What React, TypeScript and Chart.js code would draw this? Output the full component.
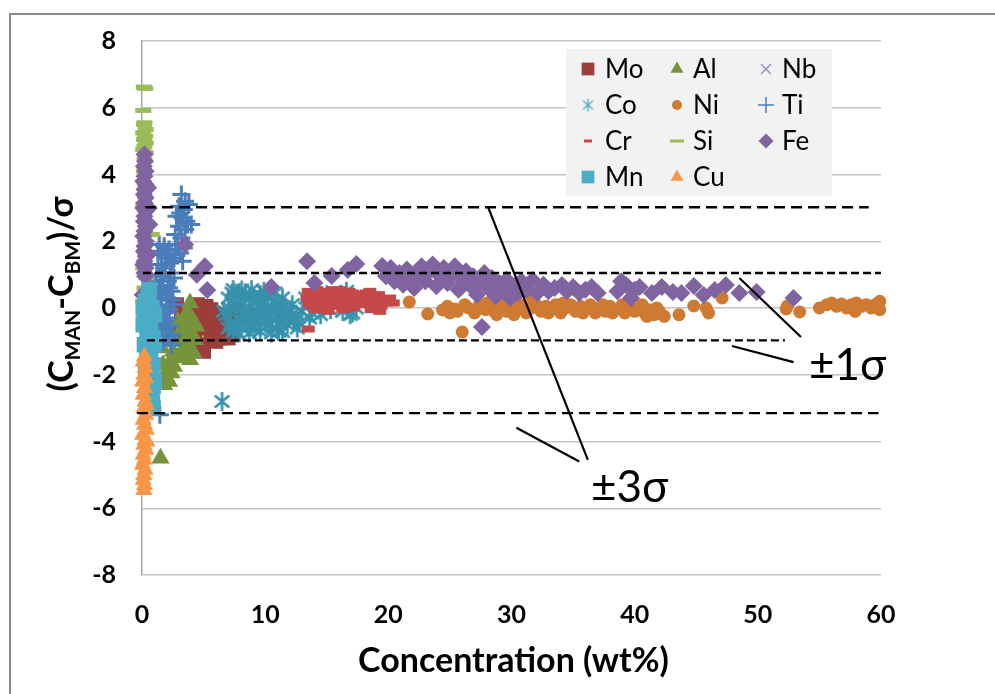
import React, { useEffect, useRef } from 'react';
import { Chart, registerables } from 'chart.js';
import { drawPoint } from 'chart.js/helpers';

Chart.register(...registerables);

type P = [number, number];

// ---------- data (x = concentration wt%, y = (Cman-Cbm)/sigma) ----------
const moData: P[] = [
  [2.8, 0.1], [3.2, -0.3], [3.0, -0.7], [3.6, -0.1], [4.0, -0.5], [4.3, -0.9], [4.7, -0.2], [4.9, -1.1],
  [5.0, -0.6], [5.2, 0.05], [5.4, -0.4], [5.6, -0.8], [5.8, -0.15], [6.0, -0.5], [6.3, -0.9], [6.5, -0.2],
  [6.8, -0.6], [7.1, -0.35], [7.4, -0.8], [7.7, -0.1], [3.7, -1.2], [4.5, 0.1], [5.0, -1.3], [6.0, -1.0],
  [7.0, -0.9], [5.6, -0.05],
];
const alData: P[] = [
  [3.9, 0.15], [3.7, -0.15], [4.1, -0.35], [3.6, -0.55], [4.0, -0.75], [4.3, -0.95], [3.5, -0.95], [3.8, -1.15],
  [4.2, -1.35], [3.3, -1.25], [3.9, -1.55], [3.1, -0.7], [2.9, -0.4], [2.7, -1.0], [2.5, -1.3], [2.3, -1.6],
  [2.1, -1.85], [1.9, -2.05], [2.2, -2.2], [1.7, -1.7], [2.6, -1.75], [3.0, -1.5], [3.4, -0.3], [4.4, -0.55],
  [1.5, -4.5], [1.6, -1.2], [1.3, -0.8], [1.8, -2.3], [2.4, -1.95], [3.6, -1.4],
];
const nbData: P[] = [[0.2, 0.0], [0.4, -0.3]];
const coData: P[] = [
  [6.8, -0.2], [7.0, 0.3], [7.2, -0.5], [7.5, 0.1], [7.7, -0.3], [7.9, 0.45], [8.1, -0.6], [8.3, 0.0],
  [8.5, -0.35], [8.7, 0.3], [8.9, -0.1], [9.1, -0.65], [9.3, 0.15], [9.5, -0.4], [9.7, 0.05], [9.9, -0.2],
  [10.1, 0.35], [10.3, -0.5], [10.5, -0.05], [10.7, 0.2], [10.9, -0.35], [11.1, -0.7], [11.3, 0.0], [11.5, -0.25],
  [11.8, -0.5], [12.0, -0.1], [12.3, -0.4], [12.6, -0.6], [8.0, 0.2], [8.6, -0.2], [9.2, -0.45], [9.8, 0.25],
  [10.4, -0.25], [11.0, 0.1], [7.4, -0.7], [13.0, -0.1], [13.3, 0.3], [13.6, -0.3], [14.0, 0.1], [14.5, -0.2],
  [15.0, 0.4], [15.3, -0.05], [16.0, 0.2], [16.3, -0.1], [16.6, 0.5], [16.9, -0.2], [17.2, 0.3], [17.4, 0.0],
  [6.5, -2.8], [7.3, 0.45], [8.1, 0.54], [6.6, -0.1],
  [7.1, 0.0], [7.6, -0.5], [7.8, 0.25], [8.2, -0.4], [8.4, 0.4], [8.8, -0.55], [9.0, 0.35], [9.4, -0.1],
  [9.6, 0.4], [10.0, -0.45], [10.2, 0.0], [10.6, -0.6], [10.8, 0.45], [11.2, -0.45], [11.4, 0.3], [11.6, 0.05],
  [11.9, -0.3], [12.2, 0.1], [12.5, -0.2], [12.8, -0.45], [7.0, -0.6], [9.0, -0.3], [10.0, 0.15], [11.0, -0.2],
  [16.2, 0.4], [16.8, 0.05], [17.1, -0.15], [13.8, -0.15], [14.8, 0.2],
  [7.8, -0.75], [8.7, -0.75], [9.6, -0.7], [10.5, -0.75], [11.4, -0.7], [8.9, 0.55], [9.9, 0.5], [7.4, 0.55],
  [8.4, -0.2], [10.9, -0.1], [9.4, 0.25], [11.7, -0.05],
];
const niData: P[] = [
  [21.7, 0.18], [23.2, -0.18], [24.4, -0.06], [25.4, -0.03], [26.0, -0.72], [24.8, 0.05], [25.6, -0.1], [26.5, 0.0],
  [27.0, -0.15], [27.4, 0.1], [27.9, -0.05], [28.3, 0.05], [28.8, -0.2], [29.2, 0.1], [29.6, -0.1], [30.0, 0.15],
  [30.4, -0.05], [30.8, 0.1], [31.2, -0.15], [31.6, 0.0], [31.7, 0.3], [32.0, 0.1], [32.4, -0.1], [32.8, 0.05],
  [33.2, -0.05], [33.6, 0.1], [34.0, -0.15], [34.4, 0.0], [34.8, 0.1], [35.2, -0.1], [35.6, 0.05], [36.0, -0.05],
  [36.4, 0.1], [36.8, -0.15], [37.2, 0.0], [37.6, -0.1], [38.0, 0.05], [38.4, -0.05], [38.8, 0.0], [39.2, -0.15],
  [39.6, 0.05], [40.0, -0.1], [40.4, 0.0], [40.8, -0.15], [41.2, -0.05], [41.6, -0.2], [42.0, -0.1], [42.4, -0.25],
  [43.6, -0.2], [44.8, 0.06], [45.8, 0.0], [46.0, -0.15], [47.1, 0.3], [52.3, -0.03], [52.4, 0.06], [53.4, -0.12],
  [55.0, 0.0], [55.6, 0.1], [56.0, 0.15], [56.4, 0.05], [56.8, 0.12], [57.2, 0.0], [57.6, 0.1], [58.0, 0.15],
  [58.4, 0.05], [58.8, 0.1], [59.2, 0.0], [59.6, 0.12], [59.9, 0.2], [59.9, -0.05], [57.9, -0.1],
  [25.0, -0.15], [26.2, 0.1], [27.2, -0.05], [28.0, 0.15], [28.6, -0.1], [29.4, 0.0], [30.2, -0.2], [31.0, 0.0],
  [32.2, 0.0], [33.0, -0.15], [34.2, 0.15], [35.0, 0.0], [35.8, -0.15], [36.6, 0.0], [37.4, 0.1], [38.2, -0.15],
  [39.0, 0.1], [39.8, -0.05], [40.6, 0.1], [41.0, -0.25], [41.8, 0.0],
];
const tiData: P[] = [
  [1.4, 1.9], [1.8, 1.85], [2.2, 1.75], [1.6, 1.6], [2.0, 1.5], [2.5, 1.4], [1.3, 1.3], [1.9, 1.2],
  [2.3, 1.05], [1.5, 0.95], [2.1, 0.8], [1.7, 0.65], [2.4, 0.5], [1.3, 0.4], [2.0, 0.25], [1.6, 0.1],
  [2.2, -0.05], [1.4, -0.2], [1.9, -0.4], [2.3, -0.55], [1.5, -0.7], [2.0, -0.85], [1.7, -1.0], [2.4, -1.1],
  [1.2, -0.5], [2.6, 0.9], [2.7, 1.6], [1.1, 0.8], [1.3, 1.7], [2.6, 0.1], [2.5, -0.8], [1.8, -0.15],
  [1.2, 1.0], [2.2, 0.6], [1.6, 1.3], [1.9, 0.45], [2.1, -0.3], [1.5, 0.3], [1.8, 1.05], [2.3, 1.35],
  [1.4, 0.6], [2.5, 0.25], [1.7, -0.6], [2.2, -0.9], [1.9, 1.65], [1.5, -0.05],
  [3.2, 3.4], [3.0, 3.05], [3.4, 2.95], [2.8, 2.75], [3.3, 2.7], [3.6, 2.6], [3.0, 2.45], [3.5, 2.35],
  [2.7, 2.2], [3.2, 2.1], [3.7, 2.5], [2.9, 1.9], [3.4, 1.8], [3.1, 1.65], [2.6, 1.5], [3.3, 1.4],
  [4.0, 2.5], [3.8, 3.1], [3.1, 2.85], [3.5, 3.2], [1.45, -3.2],
];
const crData: P[] = [
  [13.4, 0.3], [13.6, 0.1], [13.8, 0.45], [14.0, 0.2], [14.1, -0.05], [14.3, 0.35], [14.5, 0.1], [14.7, 0.5],
  [14.8, 0.25], [15.0, 0.0], [15.2, 0.4], [15.3, 0.15], [15.5, 0.55], [15.7, 0.3], [15.8, 0.05], [16.0, 0.45],
  [16.2, 0.2], [16.3, -0.05], [16.5, 0.35], [16.7, 0.1], [16.8, 0.5], [17.0, 0.25], [17.2, 0.0], [17.3, 0.4],
  [17.5, 0.15], [13.5, -0.63], [14.2, 0.55], [15.1, -0.1], [16.1, 0.55], [13.5, 0.5], [17.8, 0.3], [18.0, 0.1],
  [18.2, 0.45], [18.4, 0.2], [18.6, -0.05], [18.8, 0.35], [19.0, 0.15], [19.2, 0.4], [19.4, 0.05], [19.6, 0.25],
  [19.9, 0.15], [20.1, 0.3], [18.5, 0.5], [19.3, -0.1], [14.6, 0.35], [15.4, 0.25], [16.4, 0.3], [17.1, 0.45],
  [13.9, 0.05], [14.9, 0.05], [16.6, 0.0], [18.9, 0.0], [20.4, 0.15],
];
const siData: P[] = [
  [0.15, 6.62], [0.25, 6.58], [0.1, 5.92], [0.2, 5.55], [0.15, 5.5], [0.3, 5.35], [0.1, 5.25], [0.25, 5.15],
  [0.15, 5.05], [0.3, 4.95], [0.2, 4.85], [0.1, 4.75], [0.3, 4.65], [0.2, 4.45], [0.15, 4.1], [0.3, 3.6],
  [0.1, 3.1], [0.25, 2.6], [0.8, 2.2], [0.3, 1.6], [0.1, 1.2], [0.35, 0.9], [0.2, 0.6], [0.1, 0.2],
  [0.3, -0.15], [0.2, -0.3],
];
const feData: P[] = [
  [0.2, 4.6], [0.25, 4.4], [0.15, 4.25], [0.3, 4.1], [0.2, 3.95], [0.1, 3.8], [0.3, 3.7], [0.2, 3.55],
  [0.15, 3.4], [0.3, 3.3], [0.2, 3.15], [0.1, 3.0], [0.3, 2.9], [0.2, 2.75], [0.15, 2.6], [0.3, 2.45],
  [0.2, 2.3], [0.1, 2.15], [0.3, 2.0], [0.2, 1.85], [0.15, 1.7], [0.3, 1.55], [0.2, 1.4], [0.1, 1.3],
  [0.3, 1.2], [0.2, 1.05], [0.25, 0.95], [0.05, 0.4], [0.6, 2.5], [0.5, 3.6], [0.5, 1.6], [0.55, 3.0],
  [3.5, 1.9], [5.1, 1.25], [4.45, 1.0], [5.3, 0.54], [10.5, 0.63], [13.4, 1.4], [14.0, 0.75], [15.4, 0.96],
  [16.7, 1.14], [17.4, 1.32], [19.5, 1.26],
  [19.8, 0.95], [20.2, 1.2], [20.5, 0.8], [20.9, 1.05], [21.2, 0.7], [21.5, 1.15], [21.8, 0.9], [22.1, 0.6],
  [22.4, 1.0], [22.7, 1.25], [23.0, 0.8], [23.3, 1.1], [23.6, 1.3], [23.9, 0.65], [24.2, 0.95], [24.5, 1.2],
  [24.8, 0.75], [25.1, 1.0], [25.4, 1.25], [25.7, 0.55], [26.0, 0.85], [26.3, 1.1], [26.6, 0.7], [26.9, 0.95],
  [27.2, 0.4], [27.5, 0.8], [27.8, 1.05], [28.1, 0.6], [28.4, 0.9], [28.7, 0.35], [29.0, 0.75], [29.3, 0.5],
  [29.6, 0.85], [29.9, 0.3], [30.2, 0.65], [30.5, 0.45], [30.8, 0.8], [31.2, 0.55], [31.7, 0.84], [32.1, 0.45],
  [32.6, 0.7], [33.0, 0.5], [33.5, 0.6], [34.1, 0.69], [34.5, 0.5], [35.0, 0.63], [35.5, 0.45], [36.0, 0.55],
  [36.5, 0.63], [37.0, 0.45], [27.6, -0.57], [38.6, 0.5], [38.9, 0.8], [39.3, 0.69], [39.7, 0.3], [40.0, 0.55],
  [40.4, 0.63], [41.4, 0.45], [42.2, 0.63], [43.1, 0.48], [43.8, 0.45], [44.8, 0.66], [45.6, 0.39], [46.5, 0.54],
  [47.4, 0.69], [48.5, 0.45], [49.9, 0.48], [52.9, 0.3],
];
const mnData: P[] = [
  [0.6, 0.55], [0.3, 0.2], [0.8, 0.0], [0.2, -0.25], [0.7, -0.45], [0.4, -0.7], [0.9, -0.9], [0.2, -1.1],
  [0.7, -1.3], [0.4, -1.5], [0.9, -1.7], [0.3, -1.85], [0.8, -2.0], [0.5, -2.15], [0.9, -2.35], [0.8, -2.6],
  [0.85, -2.85], [0.9, -3.0], [0.1, -0.5], [0.5, 0.35], [1.0, -0.2], [1.0, -1.1], [0.1, 0.0], [1.0, -2.2],
];
const cuData: P[] = [
  [0.2, -1.45], [0.1, -1.6], [0.25, -1.8], [0.15, -2.0], [0.05, -2.2], [0.2, -2.4], [0.1, -2.6], [0.25, -2.8],
  [0.15, -3.0], [0.3, -3.2], [0.1, -3.35], [0.2, -3.5], [0.35, -3.65], [0.05, -3.8], [0.25, -3.95], [0.15, -4.1],
  [0.3, -4.25], [0.1, -4.4], [0.2, -4.55], [0.05, -4.7], [0.25, -4.85], [0.15, -5.0], [0.1, -5.15], [0.2, -5.3],
  [0.15, -5.45], [0.3, -2.1], [0.35, -2.9], [0.4, -4.0],
];

const seriesNames = ['Mo', 'Al', 'Nb', 'Co', 'Ni', 'Ti', 'Cr', 'Si', 'Fe', 'Mn', 'Cu'];
const seriesData: P[][] = [moData, alData, nbData, coData, niData, tiData, crData, siData, feData, mnData, cuData];

// dashed sigma reference lines: level, start x, end x
const sigmaLevels = [3.02, 1.05, -0.97, -3.15];
const sigmaStartX = [0.25, 0.08, 0.4, -0.4];
const sigmaEndX = [59.0, 60.0, 52.2, 59.8];

// solid pointer lines
const pointerLines: [P, P][] = [
  [[48.5, 0.9], [53.5, -0.87]],
  [[47.9, -1.14], [52.9, -1.62]],
  [[28.1, 3.02], [36.2, -4.55]],
  [[30.4, -3.59], [35.5, -4.6]],
];
const annotationTexts = ['±1σ', '±3σ'];
const annotationPos: P[] = [[57.3, -1.74], [39.6, -5.39]];

const xTicksMin = 0, xTicksMax = 60, xStep = 10;
const yTicksMin = -8, yTicksMax = 8, yStep = 2;

function makeAsterisk(color: string, size: number, lw: number): HTMLCanvasElement {
  const c = document.createElement('canvas');
  c.width = size;
  c.height = size;
  const g = c.getContext('2d')!;
  g.strokeStyle = color;
  g.lineWidth = lw;
  const r = size / 2 - 1;
  const cx = size / 2, cy = size / 2;
  for (const a of [90, 40, 140]) {
    const rad = (a * Math.PI) / 180;
    g.beginPath();
    g.moveTo(cx - r * Math.cos(rad), cy - r * Math.sin(rad));
    g.lineTo(cx + r * Math.cos(rad), cy + r * Math.sin(rad));
    g.stroke();
  }
  return c;
}

export default function App() {
  const ref = useRef<HTMLCanvasElement>(null);

  useEffect(() => {
    if (!ref.current) return;
    Chart.defaults.font.family = 'Lato';

    const coImg = makeAsterisk('#3791AC', 21, 2.6);
    const coLegendImg = makeAsterisk('#4BACC6', 15, 1.3);

    const styles: Record<string, any> = {
      Mo: { pointStyle: 'rect', radius: 10.5, color: '#9C3D3A', bw: 0, lr: 9 },
      Al: { pointStyle: 'triangle', radius: 10.5, color: '#77933C', bw: 0, lr: 7.5 },
      Nb: { pointStyle: 'crossRot', radius: 7, color: '#9D8EC0', bw: 1.5, lr: 7 },
      Co: { pointStyle: coImg, radius: 10, color: '#3791AC', bw: 1.5, lr: 7, legendImg: coLegendImg },
      Ni: { pointStyle: 'circle', radius: 6.5, color: '#CF7A32', bw: 0, lr: 5 },
      Ti: { pointStyle: 'cross', radius: 9, color: '#4A7EBB', bw: 3, lr: 8, lbw: 1.5 },
      Cr: { pointStyle: 'line', radius: 6.5, color: '#C6494A', bw: 7, lr: 4, lbw: 3 },
      Si: { pointStyle: 'line', radius: 8, color: '#9BBB59', bw: 5, lr: 7, lbw: 3 },
      Fe: { pointStyle: 'rectRot', radius: 9, color: '#8064A2', bw: 0, lr: 7.5 },
      Mn: { pointStyle: 'rect', radius: 11, color: '#4BACC6', bw: 0, lr: 9 },
      Cu: { pointStyle: 'triangle', radius: 10, color: '#F79646', bw: 0, lr: 7.5 },
    };

    const datasets: any[] = seriesNames.map((name, i) => {
      const s = styles[name];
      return {
        type: 'scatter',
        label: name,
        data: seriesData[i].map(([x, y]) => ({ x, y })),
        pointStyle: s.pointStyle,
        pointRadius: s.radius,
        pointHoverRadius: s.radius,
        backgroundColor: s.color,
        borderColor: s.color,
        pointBorderWidth: s.bw,
        borderWidth: s.bw,
        order: 20 - i,
        clip: false,
      };
    });

    sigmaLevels.forEach((lv, i) => {
      datasets.push({
        type: 'line',
        label: 'sigma' + i,
        data: [
          { x: sigmaStartX[i], y: lv },
          { x: sigmaEndX[i], y: lv },
        ],
        borderColor: '#000',
        borderWidth: 2.4,
        borderDash: Math.abs(lv) > 2 ? [11, 6] : [8, 4],
        pointRadius: 0,
        fill: false,
        order: -1,
        clip: false,
      });
    });
    pointerLines.forEach((seg, i) => {
      datasets.push({
        type: 'line',
        label: 'pointer' + i,
        data: seg.map(([x, y]) => ({ x, y })),
        borderColor: '#000',
        borderWidth: 2.2,
        pointRadius: 0,
        fill: false,
        order: -2,
        clip: false,
      });
    });

    const customDraw = {
      id: 'customDraw',
      afterDraw(chart: any) {
        const ctx = chart.ctx as CanvasRenderingContext2D;
        const { chartArea, scales } = chart;
        ctx.save();
        // annotation texts
        ctx.fillStyle = '#000';
        ctx.font = '44px Lato';
        ctx.textAlign = 'center';
        ctx.textBaseline = 'middle';
        annotationTexts.forEach((t, i) => {
          const [x, y] = annotationPos[i];
          ctx.fillText(t, scales.x.getPixelForValue(x), scales.y.getPixelForValue(y));
        });

        // x title
        ctx.font = 'bold 34px Lato';
        ctx.fillText('Concentration (wt%)', (chartArea.left + chartArea.right) / 2 + 2, 661);

        // y title
        ctx.save();
        ctx.translate(62, 294);
        ctx.rotate(-Math.PI / 2);
        const segs = [
          { t: '(C', sub: false },
          { t: 'MAN', sub: true },
          { t: '-C', sub: false },
          { t: 'BM', sub: true },
          { t: ')/σ', sub: false },
        ];
        const mainFont = 'bold 34px Lato';
        const subFont = 'bold 21px Lato';
        let total = 0;
        const widths = segs.map((s) => {
          ctx.font = s.sub ? subFont : mainFont;
          const w = ctx.measureText(s.t).width;
          total += w;
          return w;
        });
        let cx = -total / 2;
        ctx.textAlign = 'left';
        ctx.textBaseline = 'alphabetic';
        segs.forEach((s, i) => {
          ctx.font = s.sub ? subFont : mainFont;
          ctx.fillText(s.t, cx, s.sub ? 18 : 11);
          cx += widths[i];
        });
        ctx.restore();

        // legend
        const bx = 566, by = 49, bw = 266, bh = 147;
        ctx.fillStyle = '#F2F2F2';
        ctx.fillRect(bx, by, bw, bh);
        const colMarker = [588, 677, 766];
        const colText = [605, 693, 782];
        const rowY = [69, 105, 141, 177];
        ctx.font = '26px Lato';
        ctx.textAlign = 'left';
        ctx.textBaseline = 'middle';
        seriesNames.forEach((name, i) => {
          const s = styles[name];
          const col = i % 3;
          const row = Math.floor(i / 3);
          const mx = colMarker[col];
          const my = rowY[row];
          ctx.fillStyle = s.color;
          ctx.strokeStyle = s.color;
          ctx.lineWidth = s.lbw ?? (s.bw || 1);
          if (s.legendImg) {
            ctx.drawImage(s.legendImg, mx - s.legendImg.width / 2, my - s.legendImg.height / 2);
          } else {
            drawPoint(ctx, { pointStyle: s.pointStyle, radius: s.lr, rotation: 0, borderWidth: s.lbw ?? s.bw } as any, mx, my);
          }
          ctx.fillStyle = '#000';
          ctx.fillText(name, colText[col], my + 1);
        });
        ctx.restore();
      },
    };

    const chart = new Chart(ref.current, {
      type: 'scatter',
      data: { datasets },
      options: {
        animation: false,
        responsive: false,
        events: [],
        layout: { padding: { left: 0, top: 41, right: 114, bottom: 0 } },
        plugins: { legend: { display: false }, tooltip: { enabled: false } },
        scales: {
          x: {
            type: 'linear',
            min: xTicksMin,
            max: xTicksMax,
            ticks: {
              stepSize: xStep,
              color: '#000',
              font: { size: 25, weight: 'bold' },
              padding: 25,
              maxRotation: 0,
            },
            grid: { display: false, drawTicks: false },
            border: { display: false },
            afterFit: (s: any) => {
              s.height = 119;
            },
          },
          y: {
            type: 'linear',
            min: yTicksMin,
            max: yTicksMax,
            ticks: {
              stepSize: yStep,
              color: '#000',
              font: { size: 25, weight: 'bold' },
              padding: 26,
            },
            grid: { color: '#C4C4C4', lineWidth: 1.5, drawTicks: false },
            border: { display: true, color: '#A6A6A6', width: 1.5 },
            afterFit: (s: any) => {
              s.width = 142;
            },
          },
        },
      },
      plugins: [customDraw],
    } as any);
    return () => chart.destroy();
  }, []);

  return (
    <div style={{ position: 'fixed', left: 0, top: 0, width: 995, height: 694, overflow: 'hidden', background: '#fff' }}>
      <canvas ref={ref} width={995} height={694} style={{ position: 'absolute', left: 0, top: 0 }} />
      <div
        style={{
          position: 'absolute',
          left: 9,
          top: 13,
          width: 1200,
          height: 900,
          borderTop: '2px solid #8A8A8A',
          borderLeft: '2px solid #8A8A8A',
          pointerEvents: 'none',
        }}
      />
    </div>
  );
}
